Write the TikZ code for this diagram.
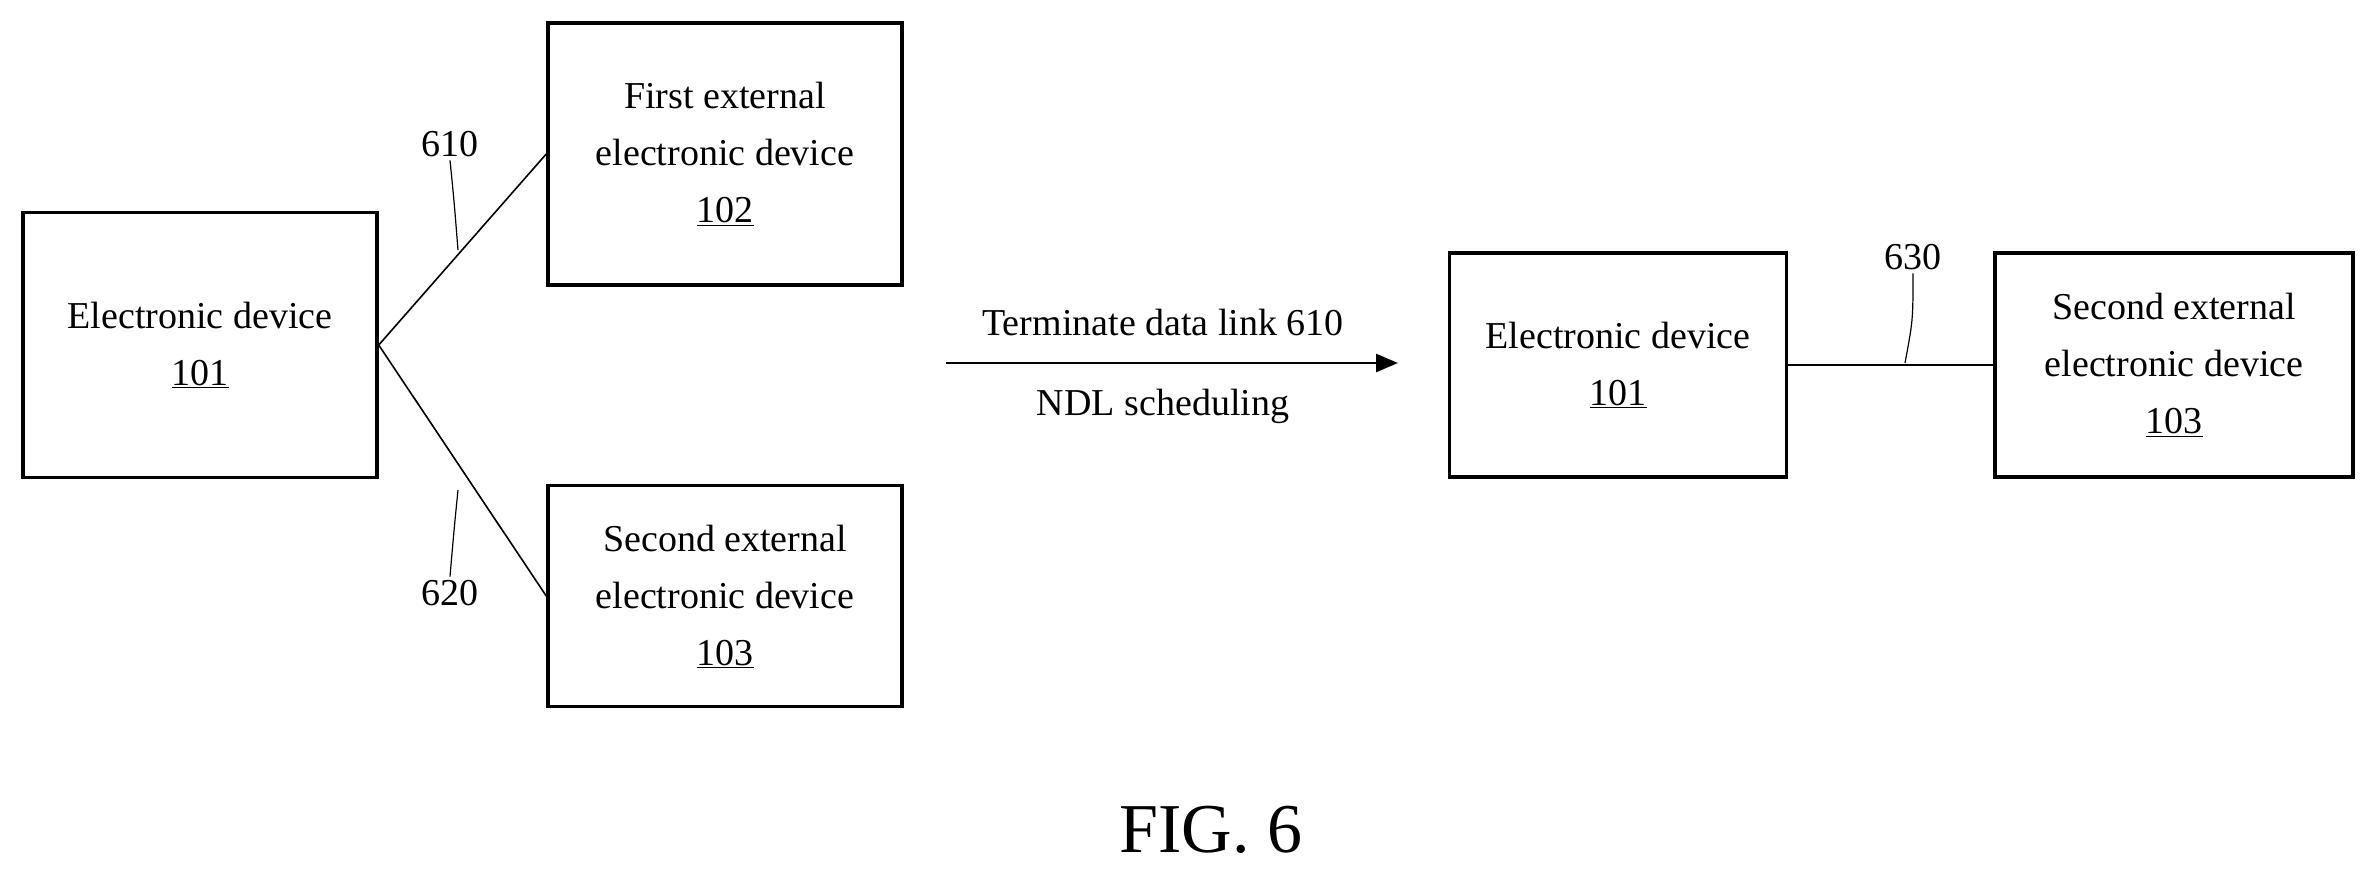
\documentclass[tikz,border=0pt]{standalone}
\usepackage{fontspec}
\setmainfont{Liberation Serif}
\usetikzlibrary{arrows.meta}
\begin{document}
\begin{tikzpicture}[x=1pt,y=-1pt,
  box/.style={draw,line width=3.5pt,minimum width=#1,align=center,inner sep=0pt},
  txt/.style={font=\fontsize{38}{57}\selectfont},
  conn/.style={line width=1.6pt},
  lead/.style={line width=1.2pt}]
\useasboundingbox (0,0) rectangle (2374,882);
\node[box=354pt,minimum height=265pt,txt] (a) at (200,345) {Electronic device\\\underline{101}};
\node[box=354pt,minimum height=262pt,txt] (b) at (725,154) {First external\\electronic device\\\underline{102}};
\node[box=354pt,minimum height=221pt,txt] (c) at (725,596) {Second external\\electronic device\\\underline{103}};
\draw[conn] (a.east) -- (b.west);
\draw[conn] (a.east) -- (c.west);
\node[txt] (l610) at (450,144) {610};
\node[txt] (l620) at (450,593) {620};
\coordinate (p1) at (458,250);
\coordinate (p2) at (458,490);
\draw[lead] (l610.south) .. controls (454,200) .. (p1);
\draw[lead] (l620.north) .. controls (454,530) .. (p2);
\coordinate (s) at (946,363);
\coordinate (e) at (1398,363);
\draw[line width=2.5pt,-{Triangle[length=22pt,width=18pt]}] (s) -- (e);
\node[txt] (t1) at (1163,323) {Terminate data link 610};
\node[txt] (t2) at (1163,406) {NDL scheduling};
\node[box=337pt,minimum height=224pt,txt] (d) at (1618,365) {Electronic device\\\underline{101}};
\node[box=358pt,minimum height=224pt,txt] (f) at (2174,365) {Second external\\electronic device\\\underline{103}};
\draw[conn] (d.east) -- (f.west);
\node[txt] (l630) at (1913,257) {630};
\coordinate (p3) at (1905,363);
\draw[lead] (l630.south) .. controls (1913,320) .. (p3);
\node[font=\fontsize{70}{80}\selectfont] (fig) at (1211,830) {FIG. 6};
\end{tikzpicture}
\end{document}
